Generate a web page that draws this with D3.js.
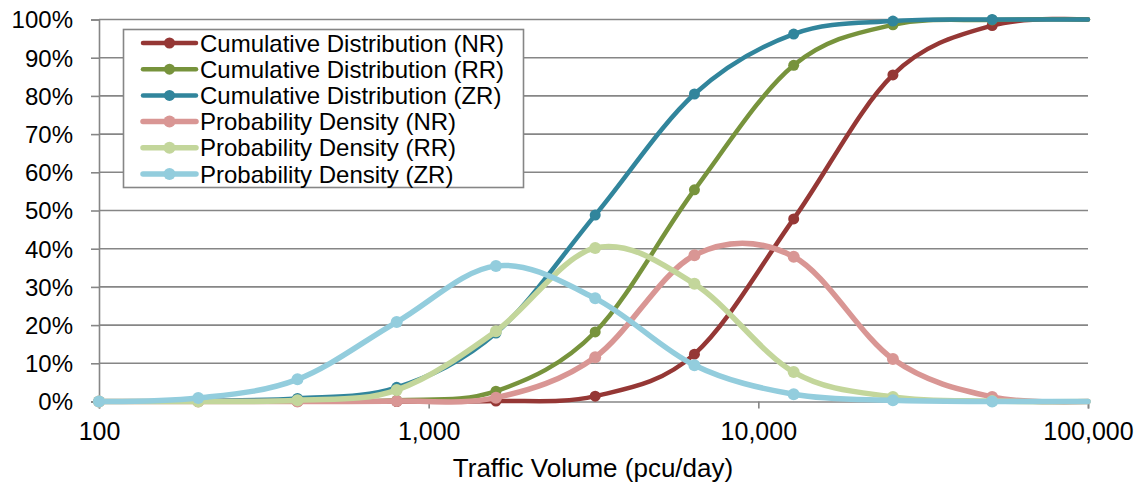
<!DOCTYPE html>
<html>
<head>
<meta charset="utf-8">
<script src="https://cdn.jsdelivr.net/npm/d3@7"></script>
<style>
  html, body { margin: 0; padding: 0; background: #fff; }
  svg { display: block; font-family: "Liberation Sans", Arial, sans-serif; }
</style>
</head>
<body>
<svg id="chart" width="1140" height="486"></svg>
<script>
// Traffic volume sample points (pcu/day), doubling from 100
const volumes = [100, 200, 400, 800, 1600, 3200, 6400, 12800, 25600, 51200, 100000];

// Cumulative distributions (%)
const cumulativeNR = [0, 0, 0, 0, 0.1, 1.4, 12.4, 47.8, 85.5, 98.4, 100];
const cumulativeRR = [0, 0, 0, 0.3, 2.7, 18.2, 55.4, 88.0, 98.6, 99.9, 100];
const cumulativeZR = [0, 0.2, 0.8, 3.7, 17.9, 48.8, 80.5, 96.2, 99.6, 100, 100];

// Probability densities (%)
const densityNR = [0, 0, 0, 0.1, 1.0, 11.6, 38.3, 37.9, 11.1, 1.2, 0];
const densityRR = [0, 0, 0.3, 3.0, 18.4, 40.2, 30.8, 7.7, 1.2, 0.1, 0];
const densityZR = [0, 0.9, 5.8, 20.8, 35.5, 27.0, 9.5, 1.9, 0.3, 0, 0];

const seriesNames = [
  "Cumulative Distribution (NR)",
  "Cumulative Distribution (RR)",
  "Cumulative Distribution (ZR)",
  "Probability Density (NR)",
  "Probability Density (RR)",
  "Probability Density (ZR)"
];
const seriesValues = [cumulativeNR, cumulativeRR, cumulativeZR, densityNR, densityRR, densityZR];
const seriesColors = ["#953735", "#77933C", "#31859C", "#D99694", "#C3D69B", "#93CDDD"];

const xTicks = [100, 1000, 10000, 100000];
const yTicks = [0, 10, 20, 30, 40, 50, 60, 70, 80, 90, 100];

const svg = d3.select("#chart");
const gridColor = "#868686";

const x = d3.scaleLog().domain([100, 100000]).range([99, 1088]);
const y = d3.scaleLinear().domain([0, 100]).range([401.5, 19.5]);

// Horizontal gridlines
svg.append("g")
  .selectAll("line")
  .data(yTicks.filter(d => d > 0))
  .join("line")
  .attr("x1", x.range()[0]).attr("x2", x.range()[1])
  .attr("y1", d => y(d)).attr("y2", d => y(d))
  .attr("stroke", gridColor).attr("stroke-width", 1.6);

// Y axis
const yAxis = svg.append("g")
  .attr("transform", `translate(${x.range()[0]},0)`)
  .call(d3.axisLeft(y).tickValues(yTicks).tickSize(8).tickPadding(18).tickFormat(d => d + "%"));
yAxis.select(".domain").attr("stroke", gridColor).attr("stroke-width", 1.6);
yAxis.selectAll(".tick line").attr("stroke", gridColor).attr("stroke-width", 1.6);
yAxis.selectAll(".tick text")
  .attr("font-size", 24).attr("fill", "#000")
  .attr("font-family", "Liberation Sans, Arial, sans-serif")
  .attr("dy", "0.35em");

// X axis
const xAxis = svg.append("g")
  .attr("transform", `translate(0,${y(0)})`)
  .call(d3.axisBottom(x).tickValues(xTicks).tickSize(7).tickPadding(14).tickFormat(d3.format(",")));
xAxis.select(".domain").attr("stroke", gridColor).attr("stroke-width", 1.6);
xAxis.selectAll(".tick line").attr("stroke", gridColor).attr("stroke-width", 1.6);
xAxis.selectAll(".tick text")
  .attr("font-size", 25).attr("fill", "#000")
  .attr("font-family", "Liberation Sans, Arial, sans-serif");

// Axis title
svg.append("text")
  .attr("x", 593).attr("y", 468)
  .attr("text-anchor", "middle").attr("dominant-baseline", "central")
  .attr("font-size", 26).attr("fill", "#000")
  .text("Traffic Volume (pcu/day)");

// Smoothed series lines with markers
const line = d3.line()
  .x(d => x(d[0]))
  .y(d => y(d[1]))
  .curve(d3.curveCardinal.tension(0));

const plot = svg.append("g");
seriesValues.forEach((vals, i) => {
  const pts = volumes.map((v, k) => [v, vals[k]]);
  const isDensity = i >= 3;
  const g = plot.append("g");
  g.append("path")
    .attr("d", line(pts))
    .attr("fill", "none")
    .attr("stroke", seriesColors[i])
    .attr("stroke-width", isDensity ? 5.5 : 4.5)
    .attr("stroke-linejoin", "round")
    .attr("stroke-linecap", "round");
  g.selectAll("circle")
    .data(pts.slice(0, -1))
    .join("circle")
    .attr("cx", d => x(d[0]))
    .attr("cy", d => y(d[1]))
    .attr("r", isDensity ? 6 : 5.5)
    .attr("fill", seriesColors[i]);
});

// Legend
const legend = svg.append("g");
legend.append("rect")
  .attr("x", 123.5).attr("y", 29.5)
  .attr("width", 400).attr("height", 158)
  .attr("fill", "#fff").attr("stroke", gridColor).attr("stroke-width", 1.6);
seriesNames.forEach((name, i) => {
  const cy = 43 + i * 26.2;
  const isDensity = i >= 3;
  legend.append("line")
    .attr("x1", 143).attr("x2", 196).attr("y1", cy).attr("y2", cy)
    .attr("stroke", seriesColors[i]).attr("stroke-width", isDensity ? 5.5 : 4.5)
    .attr("stroke-linecap", "round");
  legend.append("circle")
    .attr("cx", 169.5).attr("cy", cy).attr("r", isDensity ? 6 : 5.5)
    .attr("fill", seriesColors[i]);
  legend.append("text")
    .attr("x", 200).attr("y", cy)
    .attr("dominant-baseline", "central")
    .attr("font-size", 24).attr("fill", "#000")
    .text(name);
});
</script>
</body>
</html>
